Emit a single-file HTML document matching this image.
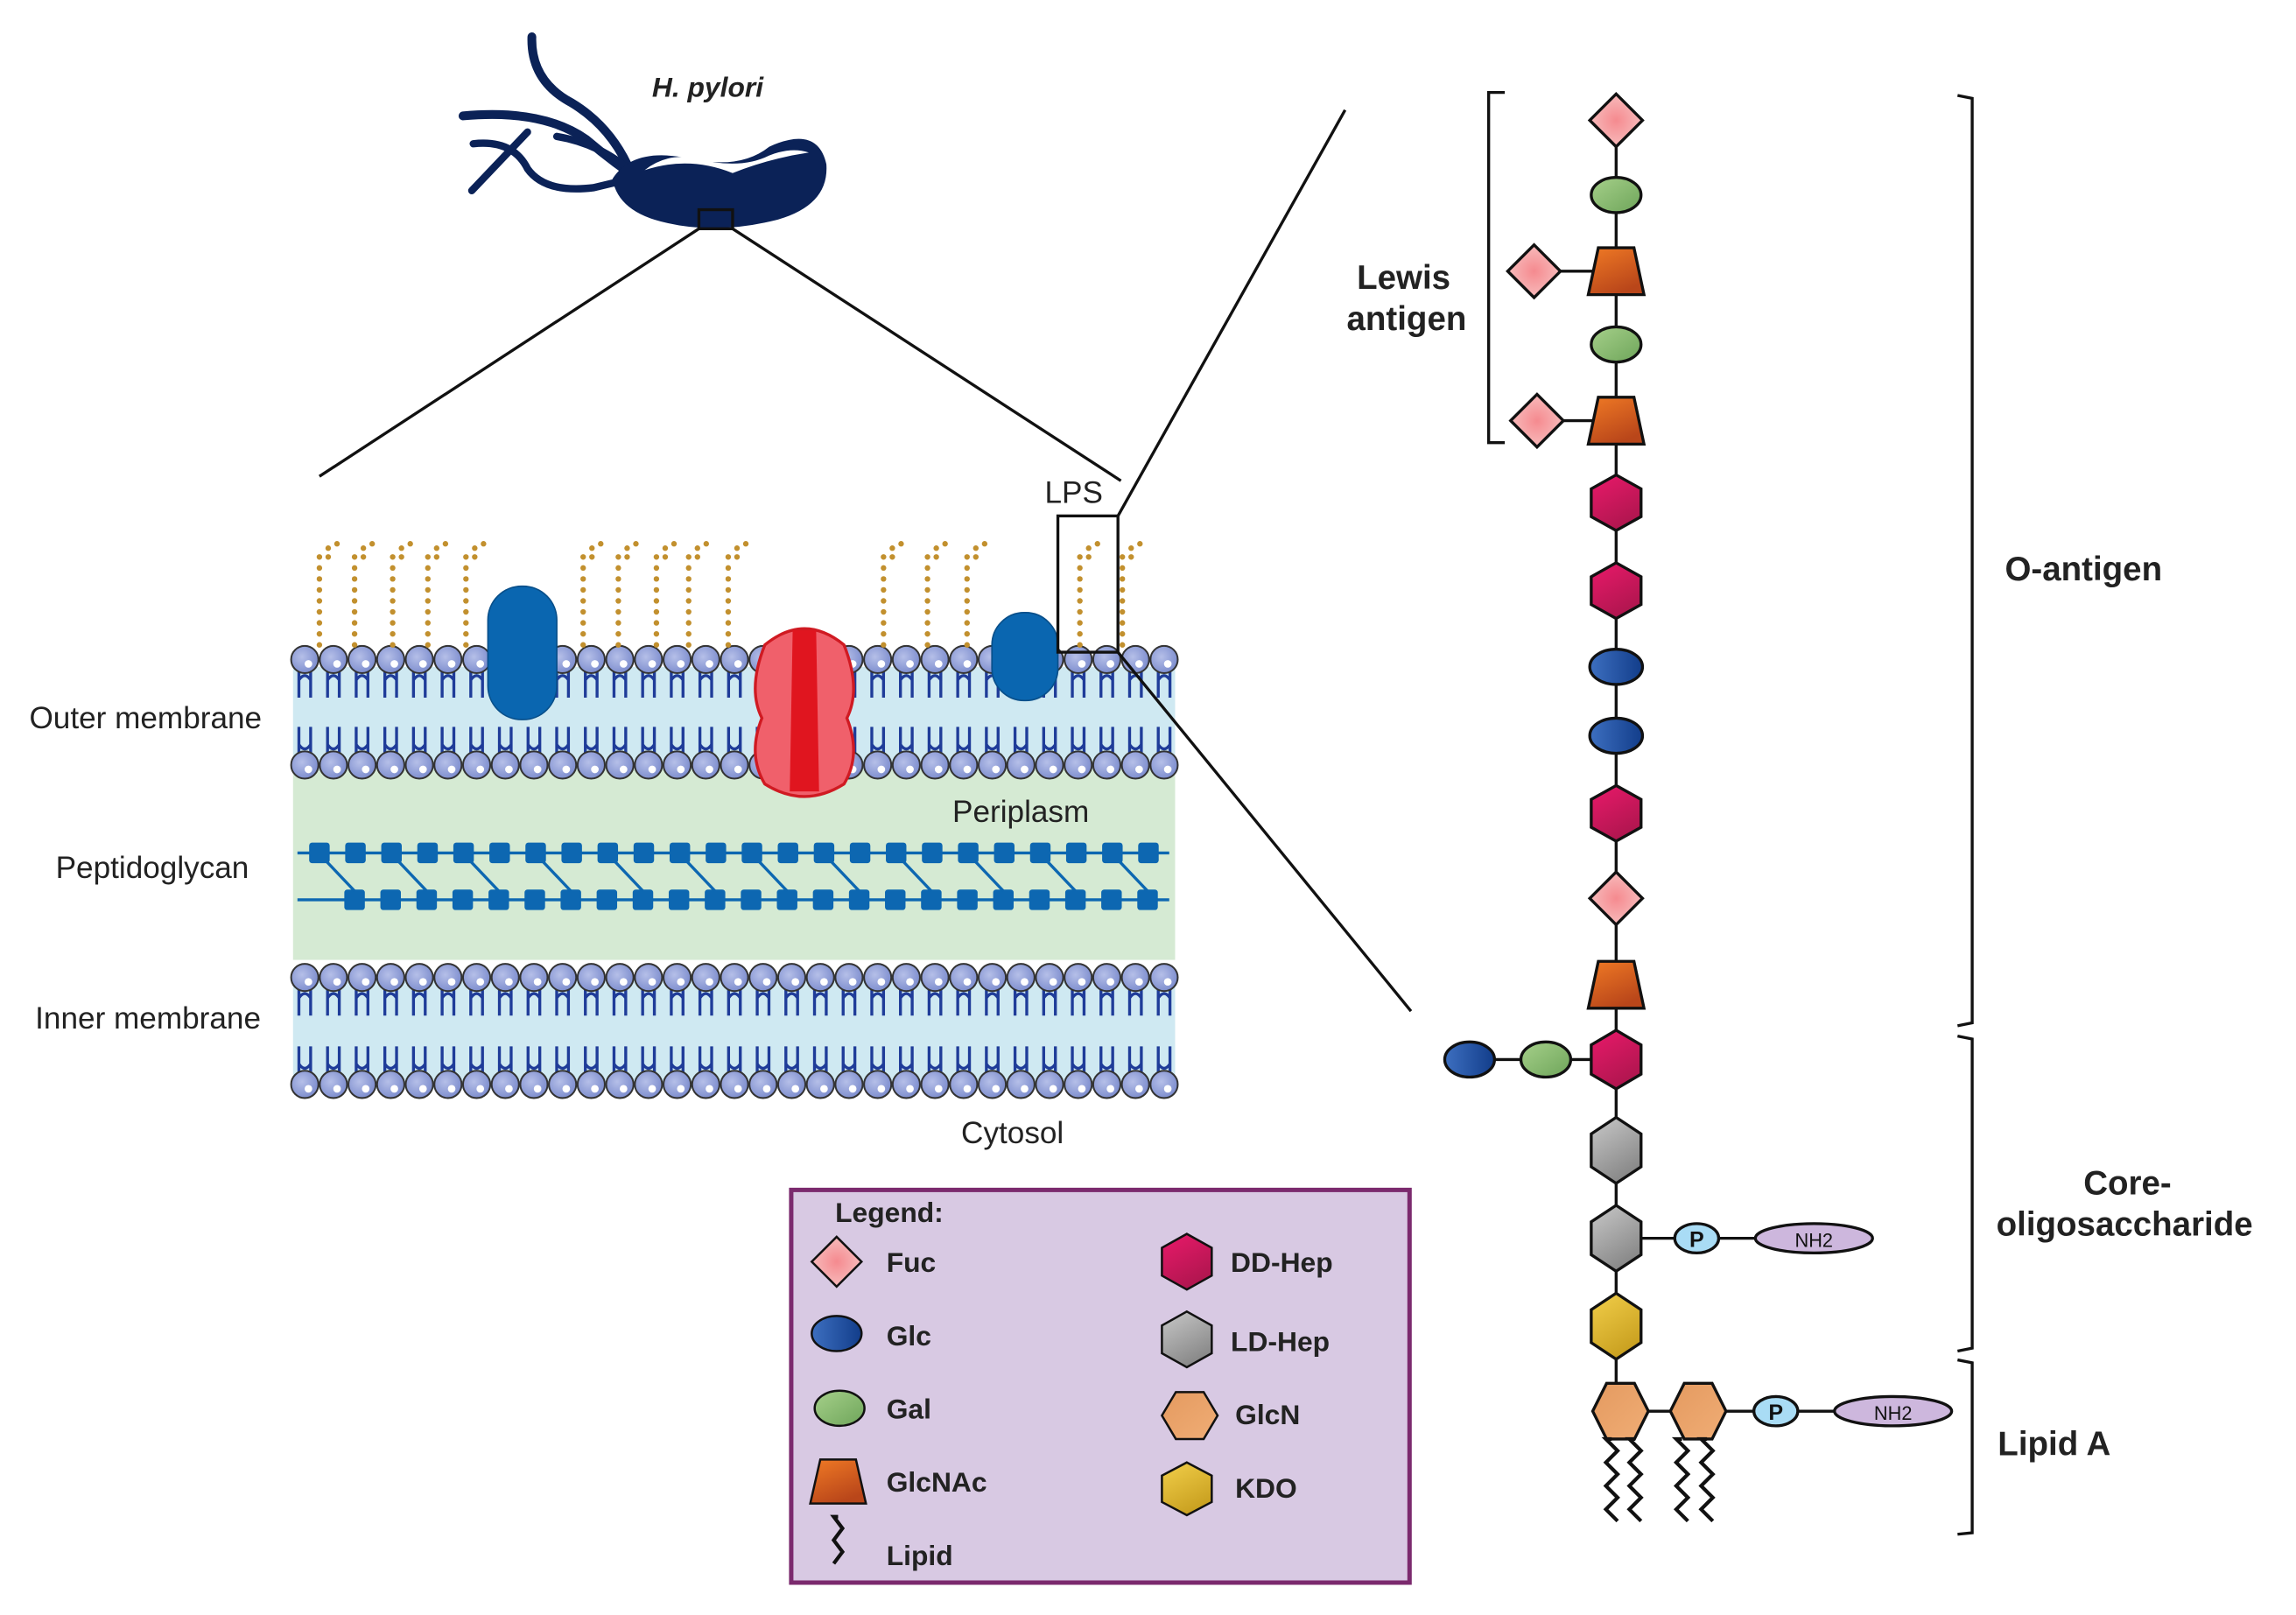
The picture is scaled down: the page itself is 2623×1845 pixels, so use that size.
<!DOCTYPE html>
<html><head><meta charset="utf-8"><style>
html,body{margin:0;padding:0;background:#fff;}
svg{display:block;}
text{font-family:"Liberation Sans",Arial,sans-serif;}
</style></head><body>
<svg id="s" width="2623" height="1845" viewBox="0 0 1567 1102" xmlns="http://www.w3.org/2000/svg">
<defs>
<radialGradient id="gFuc" cx="50%" cy="50%" r="60%"><stop offset="0" stop-color="#f58a8f"/><stop offset="1" stop-color="#f8c4c4"/></radialGradient>
<linearGradient id="gGal" x1="0" y1="0" x2="1" y2="1"><stop offset="0" stop-color="#a6d08a"/><stop offset="1" stop-color="#6ea55a"/></linearGradient>
<linearGradient id="gGlc" x1="0" y1="0" x2="1" y2="0"><stop offset="0" stop-color="#3d6fc0"/><stop offset="1" stop-color="#123d8a"/></linearGradient>
<linearGradient id="gNac" x1="0" y1="0" x2="0.5" y2="1"><stop offset="0" stop-color="#f07a25"/><stop offset="1" stop-color="#b9461a"/></linearGradient>
<linearGradient id="gDD" x1="0" y1="0" x2="0.5" y2="1"><stop offset="0" stop-color="#e9196a"/><stop offset="1" stop-color="#b0164f"/></linearGradient>
<linearGradient id="gLD" x1="0" y1="0" x2="0.5" y2="1"><stop offset="0" stop-color="#c8c8c8"/><stop offset="1" stop-color="#888"/></linearGradient>
<linearGradient id="gGN" x1="0" y1="0" x2="1" y2="1"><stop offset="0" stop-color="#e49a60"/><stop offset="1" stop-color="#f0ad75"/></linearGradient>
<linearGradient id="gKDO" x1="0" y1="0" x2="0.5" y2="1"><stop offset="0" stop-color="#f2cf4a"/><stop offset="1" stop-color="#c9a020"/></linearGradient>
<radialGradient id="gHead" cx="40%" cy="40%" r="60%"><stop offset="0" stop-color="#b5bfe8"/><stop offset="1" stop-color="#7f8fcf"/></radialGradient>
</defs>

<rect x="200" y="525" width="602" height="130" fill="#d5ead3"/>
<rect x="200" y="455" width="602" height="70" fill="#cfe9f2"/>
<rect x="200" y="668" width="602" height="75" fill="#cfe9f2"/>
<g id="mem"></g>
<g id="lps"></g>

<rect x="333" y="400" width="47" height="91" rx="23" fill="#0a66b0" stroke="#084f8a" stroke-width="1"/>
<rect x="677" y="418" width="45" height="60" rx="22" fill="#0a66b0" stroke="#084f8a" stroke-width="1"/>
<path d="M522,440 Q549,418 576,440 Q588,470 578,490 Q588,515 576,535 Q549,552 522,535 Q510,515 520,490 Q510,470 522,440Z" fill="#f0606b" stroke="#d01a22" stroke-width="2"/>
<path d="M541,430 L557,430 L559,540 L539,540Z" fill="#e0151f"/>

<!-- bacterium -->
<g stroke="#0b2257" fill="none" stroke-linecap="round">
<path d="M363,25 Q362,55 390,70 Q415,85 428,112" stroke-width="6"/>
<path d="M316,79 Q370,74 400,95 Q420,112 440,125" stroke-width="6"/>
<path d="M323,98 Q350,95 360,115 Q372,132 405,128 L430,122" stroke-width="5"/>
<path d="M322,130 L360,90" stroke-width="5"/>
<path d="M380,93 Q410,98 432,118" stroke-width="5"/>
</g>
<path d="M418,122 Q432,100 470,108 Q505,116 525,100 Q558,85 564,112 Q566,140 530,150 Q490,160 455,152 Q422,145 418,122Z" fill="#0b2257"/>
<path d="M440,116 Q470,106 500,118 Q525,108 552,104 Q540,100 525,106 Q505,116 475,108 Q455,104 440,116Z" fill="#fff"/>
<rect x="477" y="143" width="23" height="13" fill="none" stroke="#111" stroke-width="2"/>
<text x="445" y="66" font-size="19" font-weight="bold" font-style="italic" fill="#222">H. pylori</text>

<g stroke="#111" stroke-width="2" fill="none">
<line x1="477" y1="156" x2="218" y2="325"/>
<line x1="500" y1="156" x2="765" y2="328"/>
<rect x="722" y="352" width="41" height="93"/>
<line x1="763" y1="352" x2="918" y2="75"/>
<line x1="763" y1="445" x2="963" y2="690"/>
</g>

<g font-size="21" fill="#222">
<text x="20" y="497">Outer membrane</text>
<text x="38" y="599">Peptidoglycan</text>
<text x="24" y="702">Inner membrane</text>
<text x="650" y="561">Periplasm</text>
<text x="656" y="780">Cytosol</text>
<text x="713" y="343">LPS</text>
</g>

<g id="chain" stroke="#111" stroke-width="2"></g>

<g stroke="#111" stroke-width="2" fill="none">
<path d="M1027,63 L1016,63 L1016,302 L1027,302"/>
<path d="M1336,65 L1346,67 L1346,698 L1336,700"/>
<path d="M1336,707 L1346,709 L1346,920 L1336,922"/>
<path d="M1336,928 L1346,930 L1346,1046 L1336,1047"/>
</g>
<g font-size="23" font-weight="bold" fill="#222" text-anchor="middle">
<text x="958" y="197">Lewis</text>
<text x="960" y="225">antigen</text>
<text x="1422" y="396">O-antigen</text>
<text x="1452" y="815">Core-</text>
<text x="1450" y="843">oligosaccharide</text>
<text x="1402" y="993">Lipid A</text>
</g>

<rect x="540" y="812" width="422" height="268" fill="#d8c9e3" stroke="#7b2a6e" stroke-width="3"/>
<g id="leg" stroke="#111" stroke-width="1.5"></g>
<g font-size="19" font-weight="bold" fill="#222">
<text x="570" y="834">Legend:</text>
<text x="605" y="868">Fuc</text>
<text x="605" y="918">Glc</text>
<text x="605" y="968">Gal</text>
<text x="605" y="1018">GlcNAc</text>
<text x="605" y="1068">Lipid</text>
<text x="840" y="868">DD-Hep</text>
<text x="840" y="922">LD-Hep</text>
<text x="843" y="972">GlcN</text>
<text x="843" y="1022">KDO</text>
</g>
</svg>
<script>
var NS="http://www.w3.org/2000/svg";
function el(p,t,a,txt){var e=document.createElementNS(NS,t);for(var k in a)e.setAttribute(k,a[k]);if(txt)e.textContent=txt;p.appendChild(e);return e;}
var mem=document.getElementById('mem');
function bilayer(top,bot){
 for(var i=0;i<31;i++){var x=208+i*19.55;
  el(mem,'path',{d:'M'+(x-4)+','+(top+8)+' L'+(x-4)+','+(top+26)+' M'+(x+4)+','+(top+8)+' L'+(x+4)+','+(top+26)+' M'+(x-4)+','+(top+14)+' Q'+x+','+(top+8)+' '+(x+4)+','+(top+14),stroke:'#1f3c99','stroke-width':2,fill:'none'});
  el(mem,'path',{d:'M'+(x-4)+','+(bot-8)+' L'+(x-4)+','+(bot-26)+' M'+(x+4)+','+(bot-8)+' L'+(x+4)+','+(bot-26)+' M'+(x-4)+','+(bot-14)+' Q'+x+','+(bot-8)+' '+(x+4)+','+(bot-14),stroke:'#1f3c99','stroke-width':2,fill:'none'});
 }
 for(var i=0;i<31;i++){var x=208+i*19.55;
  [top,bot].forEach(function(y){el(mem,'circle',{cx:x,cy:y,r:9.3,fill:'url(#gHead)',stroke:'#333','stroke-width':1.2});el(mem,'circle',{cx:x+2.5,cy:y+3,r:2.6,fill:'#fff'});});
 }
}
bilayer(450,522);bilayer(667,740);
for(var r=0;r<2;r++){var y=r?614:582,x0=r?242:218;
 el(mem,'line',{x1:203,y1:y,x2:798,y2:y,stroke:'#0d67b1','stroke-width':2});
 for(var i=0;i<24;i++){var x=x0+i*24.6;if(x>795)break;el(mem,'rect',{x:x-7,y:y-7,width:14,height:14,rx:2,fill:'#0d67b1'});}
}
for(var i=0;i<12;i++){var x=218+i*49.2;el(mem,'line',{x1:x+5,y1:588,x2:x+24,y2:608,stroke:'#0d67b1','stroke-width':2});}
var lps=document.getElementById('lps');
var cols=[218,242,268,292,318,398,422,448,470,497,603,633,660,737,766];
cols.forEach(function(x){
 for(var y=440;y>=378;y-=7.5)el(lps,'circle',{cx:x,cy:y,r:1.9,fill:'#c2902e'});
 el(lps,'circle',{cx:x+6,cy:374,r:1.9,fill:'#c2902e'});el(lps,'circle',{cx:x+12,cy:371,r:1.9,fill:'#c2902e'});el(lps,'circle',{cx:x+6,cy:380,r:1.9,fill:'#c2902e'});
});
var ch=document.getElementById('chain');
function line(g,x1,y1,x2,y2){el(g,'line',{x1:x1,y1:y1,x2:x2,y2:y2});}
function dia(g,x,y,s){el(g,'polygon',{points:(x-s)+','+y+' '+x+','+(y-s)+' '+(x+s)+','+y+' '+x+','+(y+s),fill:'url(#gFuc)'});}
function ell(g,x,y,rx,ry,f){el(g,'ellipse',{cx:x,cy:y,rx:rx,ry:ry,fill:f});}
function trap(g,x,y,w,h){el(g,'polygon',{points:(x-w*0.32)+','+(y-h/2)+' '+(x+w*0.32)+','+(y-h/2)+' '+(x+w/2)+','+(y+h/2)+' '+(x-w/2)+','+(y+h/2),fill:'url(#gNac)'});}
function hexv(g,x,y,w,h,f){el(g,'polygon',{points:x+','+(y-h/2)+' '+(x+w/2)+','+(y-h/4)+' '+(x+w/2)+','+(y+h/4)+' '+x+','+(y+h/2)+' '+(x-w/2)+','+(y+h/4)+' '+(x-w/2)+','+(y-h/4),fill:f});}
function hexh(g,x,y,w,h,f){el(g,'polygon',{points:(x-w/4)+','+(y-h/2)+' '+(x+w/4)+','+(y-h/2)+' '+(x+w/2)+','+y+' '+(x+w/4)+','+(y+h/2)+' '+(x-w/4)+','+(y+h/2)+' '+(x-w/2)+','+y,fill:f});}
var X=1103;
line(ch,X,82,X,963);
line(ch,1047,185,X,185);line(ch,1049,287,X,287);
line(ch,1003,723,X,723);line(ch,X,845,1238,845);line(ch,1106,963,1292,963);
dia(ch,X,82,18);ell(ch,X,133,17,12,'url(#gGal)');trap(ch,X,185,38,32);dia(ch,1047,185,18);
ell(ch,X,235,17,12,'url(#gGal)');trap(ch,X,287,38,32);dia(ch,1049,287,18);
hexv(ch,X,343,34,38,'url(#gDD)');hexv(ch,X,403,34,38,'url(#gDD)');
ell(ch,X,455,18,12,'url(#gGlc)');ell(ch,X,502,18,12,'url(#gGlc)');
hexv(ch,X,555,34,38,'url(#gDD)');dia(ch,X,613,18);trap(ch,X,672,38,32);
hexv(ch,X,723,34,40,'url(#gDD)');ell(ch,1003,723,17,12,'url(#gGlc)');ell(ch,1055,723,17,12,'url(#gGal)');
hexv(ch,X,785,34,45,'url(#gLD)');hexv(ch,X,845,34,45,'url(#gLD)');hexv(ch,X,905,34,45,'url(#gKDO)');
ell(ch,1158,845,15,10,'#a9dcf5');el(ch,'text',{x:1158,y:851,'font-size':15,'font-weight':'bold','text-anchor':'middle',stroke:'none',fill:'#111'},'P');
ell(ch,1238,845,40,10,'#cdb7dd');el(ch,'text',{x:1238,y:851,'font-size':13,'text-anchor':'middle',stroke:'none',fill:'#111'},'NH2');
hexh(ch,1106,963,38,38,'url(#gGN)');hexh(ch,1159,963,38,38,'url(#gGN)');
ell(ch,1212,963,15,10,'#a9dcf5');el(ch,'text',{x:1212,y:969,'font-size':15,'font-weight':'bold','text-anchor':'middle',stroke:'none',fill:'#111'},'P');
ell(ch,1292,963,40,10,'#cdb7dd');el(ch,'text',{x:1292,y:969,'font-size':13,'text-anchor':'middle',stroke:'none',fill:'#111'},'NH2');
function zig(g,x,y1,y2,a){var d='M'+x+','+y1,t=0;for(var y=y1;y<=y2;y+=8){d+=' L'+(x+(t%2?a:-a))+','+y;t++;}el(g,'path',{d:d,fill:'none','stroke-width':2.5});}
[1100,1116,1148,1165].forEach(function(x){zig(ch,x,982,1045,4);});
var lg=document.getElementById('leg');
dia(lg,571,861,17);ell(lg,571,910,17,12,'url(#gGlc)');ell(lg,573,961,17,12,'url(#gGal)');trap(lg,572,1011,38,30);
zig(lg,572,1035,1072,3);
hexv(lg,810,861,34,38,'url(#gDD)');hexv(lg,810,914,34,38,'url(#gLD)');hexh(lg,812,966,38,32,'url(#gGN)');hexv(lg,810,1016,34,36,'url(#gKDO)');
</script>
</body></html>
